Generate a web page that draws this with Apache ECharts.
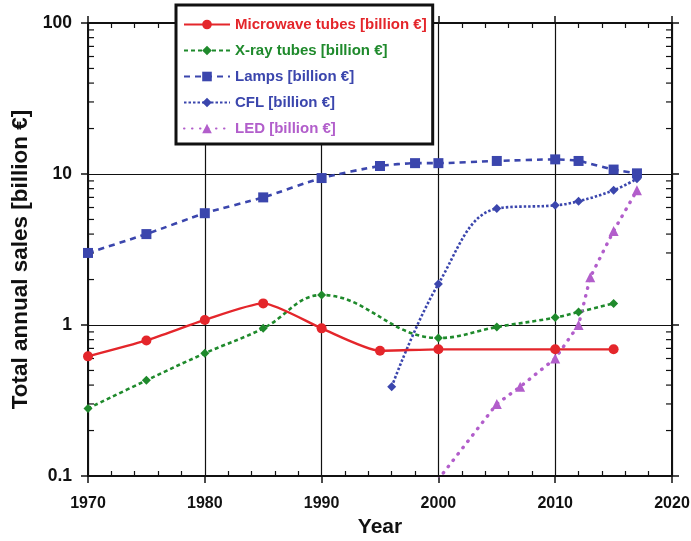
<!DOCTYPE html>
<html>
<head>
<meta charset="utf-8">
<script src="https://cdn.jsdelivr.net/npm/echarts@6/dist/echarts.min.js"></script>
<style>
html,body{margin:0;padding:0;background:#fff;}
#chart{width:691px;height:541px;}
</style>
</head>
<body>
<div id="chart"></div>
<script>
// ---- data ----
const xTicks = [1970, 1980, 1990, 2000, 2010, 2020];
const yTicks = [0.1, 1, 10, 100];
const yMinorTicks = [0.2,0.3,0.4,0.5,0.6,0.7,0.8,0.9, 2,3,4,5,6,7,8,9, 20,30,40,50,60,70,80,90];

const microwaveYears  = [1970, 1975, 1980, 1985, 1990, 1995, 2000, 2010, 2015];
const microwaveValues = [0.62, 0.79, 1.08, 1.39, 0.95, 0.675, 0.69, 0.69, 0.69];

const xrayYears  = [1970, 1975, 1980, 1985, 1990, 2000, 2005, 2010, 2012, 2015];
const xrayValues = [0.28, 0.43, 0.65, 0.95, 1.58, 0.82, 0.97, 1.12, 1.22, 1.39];

const lampsYears  = [1970, 1975, 1980, 1985, 1990, 1995, 1998, 2000, 2005, 2010, 2012, 2015, 2017];
const lampsValues = [3.0, 4.0, 5.5, 7.0, 9.4, 11.3, 11.8, 11.8, 12.2, 12.5, 12.2, 10.7, 10.1];

const cflYears  = [1996, 2000, 2005, 2010, 2012, 2015, 2017];
const cflValues = [0.39, 1.87, 5.9, 6.2, 6.6, 7.8, 9.3];

const ledYears  = [2000, 2005, 2007, 2010, 2012, 2013, 2015, 2017];
const ledValues = [0.095, 0.30, 0.39, 0.60, 1.0, 2.07, 4.2, 7.8];

const names = ['Microwave tubes [billion €]', 'X-ray tubes [billion €]', 'Lamps [billion €]', 'CFL [billion €]', 'LED [billion €]'];
const colors = ['#e4262b', '#1f8a2c', '#3b46ad', '#3b46ad', '#b25ecb'];

// ---- chart ----
const pairs = (xs, ys) => xs.map((x, i) => [x, ys[i]]);
const xMin = xTicks[0], xMax = xTicks[xTicks.length - 1];
const yMin = yTicks[0], yMax = yTicks[yTicks.length - 1];
const FONT = 'Liberation Sans, Arial, sans-serif';
const INK = '#111';

const chart = echarts.init(document.getElementById('chart'), null, {renderer: 'canvas'});

const baseX = {type: 'value', min: xMin, max: xMax, interval: 10, gridIndex: 0};
const baseY = {type: 'log', logBase: 10, min: yMin, max: yMax, gridIndex: 0};

const option = {
  animation: false,
  backgroundColor: '#fff',
  grid: {left: 88, right: 19, top: 23, bottom: 65, containLabel: false, outerBoundsMode: 'none'},
  xAxis: [
    Object.assign({}, baseX, {
      position: 'bottom',
      name: 'Year', nameLocation: 'middle', nameGap: 41,
      nameTextStyle: {fontFamily: FONT, fontWeight: 'bold', fontSize: 21, color: INK},
      axisLine: {show: true, onZero: false, lineStyle: {color: INK, width: 2}},
      axisTick: {show: true, inside: false, length: 7, lineStyle: {color: INK, width: 1.5}},
      axisLabel: {show: true, margin: 20, fontFamily: FONT, fontWeight: 'bold', fontSize: 16, color: INK,
        formatter: v => String(v)},
      splitLine: {show: true, lineStyle: {color: INK, width: 1.2}},
      minorTick: {show: false}
    }),
    Object.assign({}, baseX, {
      position: 'bottom',
      axisLine: {show: false, onZero: false},
      axisTick: {show: false, inside: true},
      axisLabel: {show: false},
      splitLine: {show: false},
      minorTick: {show: true, splitNumber: 5, length: 5, lineStyle: {color: INK, width: 1.2}}
    }),
    Object.assign({}, baseX, {
      position: 'top',
      axisLine: {show: true, onZero: false, lineStyle: {color: INK, width: 2}},
      axisTick: {show: true, inside: false, length: 7, lineStyle: {color: INK, width: 1.5}},
      axisLabel: {show: false},
      splitLine: {show: false}
    }),
    Object.assign({}, baseX, {
      position: 'top',
      axisLine: {show: false, onZero: false},
      axisTick: {show: false, inside: true},
      axisLabel: {show: false},
      splitLine: {show: false},
      minorTick: {show: true, splitNumber: 5, length: 5, lineStyle: {color: INK, width: 1.2}}
    })
  ],
  yAxis: [
    Object.assign({}, baseY, {
      position: 'left',
      name: 'Total annual sales [billion €]', nameLocation: 'middle', nameGap: 56,
      nameTextStyle: {fontFamily: FONT, fontWeight: 'bold', fontSize: 22.5, color: INK, padding: [0, 20, 0, 0]},
      axisLine: {show: true, onZero: false, lineStyle: {color: INK, width: 2}},
      axisTick: {show: true, inside: false, length: 7, lineStyle: {color: INK, width: 1.5}},
      axisLabel: {show: true, margin: 16, fontFamily: FONT, fontWeight: 'bold', fontSize: 17.5, color: INK,
        formatter: v => String(+v.toPrecision(3))},
      splitLine: {show: true, lineStyle: {color: INK, width: 1.2}}
    }),
    Object.assign({}, baseY, {
      position: 'right',
      axisLine: {show: true, onZero: false, lineStyle: {color: INK, width: 2}},
      axisTick: {show: true, inside: false, length: 7, lineStyle: {color: INK, width: 1.5}},
      axisLabel: {show: false},
      splitLine: {show: false}
    })
  ],
  legend: {
    show: true,
    orient: 'vertical',
    left: 176, top: 5,
    data: names.map((n, i) => ({name: n, textStyle: {color: colors[i]}})),
    itemWidth: 46, itemHeight: 12, itemGap: 11,
    padding: [12, 6, 8, 7],
    backgroundColor: '#fff',
    borderColor: INK, borderWidth: 3,
    textStyle: {fontFamily: FONT, fontWeight: 'bold', fontSize: 15},
    selectedMode: false,
    z: 10
  },
  series: [
    {
      name: names[0], type: 'line', data: pairs(microwaveYears, microwaveValues),
      xAxisIndex: 0, yAxisIndex: 0, smooth: 0.2,
      symbol: 'circle', symbolSize: 10,
      lineStyle: {color: colors[0], width: 2.4, type: 'solid'},
      itemStyle: {color: colors[0]}, z: 5
    },
    {
      name: names[1], type: 'line', data: pairs(xrayYears, xrayValues),
      xAxisIndex: 0, yAxisIndex: 0, smooth: 0.4,
      symbol: 'diamond', symbolSize: 9,
      lineStyle: {color: colors[1], width: 2.6, type: [4, 3]},
      itemStyle: {color: colors[1]}, z: 4
    },
    {
      name: names[2], type: 'line', data: pairs(lampsYears, lampsValues),
      xAxisIndex: 0, yAxisIndex: 0, smooth: 0.2,
      symbol: 'rect', symbolSize: 10,
      lineStyle: {color: colors[2], width: 2.6, type: [6, 5]},
      itemStyle: {color: colors[2]}, z: 4
    },
    {
      name: names[3], type: 'line', data: pairs(cflYears, cflValues),
      xAxisIndex: 0, yAxisIndex: 0, smooth: 0.4,
      symbol: 'diamond', symbolSize: 9,
      lineStyle: {color: colors[3], width: 2.6, type: [2.5, 2]},
      itemStyle: {color: colors[3]}, z: 4
    },
    {
      name: names[4], type: 'line', data: pairs(ledYears, ledValues),
      xAxisIndex: 0, yAxisIndex: 0, smooth: false,
      symbol: 'triangle', symbolSize: 10,
      lineStyle: {color: colors[4], width: 3.4, type: [0.5, 7.5], cap: 'round'},
      itemStyle: {color: colors[4]}, z: 4
    },
    {
      type: 'custom', xAxisIndex: 0, yAxisIndex: 0, silent: true, clip: false, z: 3,
      data: yMinorTicks.map(v => [xMin, v]),
      encode: {x: 0, y: 1},
      renderItem: function (params, api) {
        const v = api.value(1);
        const l = api.coord([xMin, v]);
        const r = api.coord([xMax, v]);
        const st = {stroke: INK, lineWidth: 1.2};
        return {type: 'group', children: [
          {type: 'line', shape: {x1: l[0], y1: l[1], x2: l[0] + 6, y2: l[1]}, style: st},
          {type: 'line', shape: {x1: r[0] - 6, y1: r[1], x2: r[0], y2: r[1]}, style: st}
        ]};
      }
    }
  ]
};
chart.setOption(option);
</script>
</body>
</html>
